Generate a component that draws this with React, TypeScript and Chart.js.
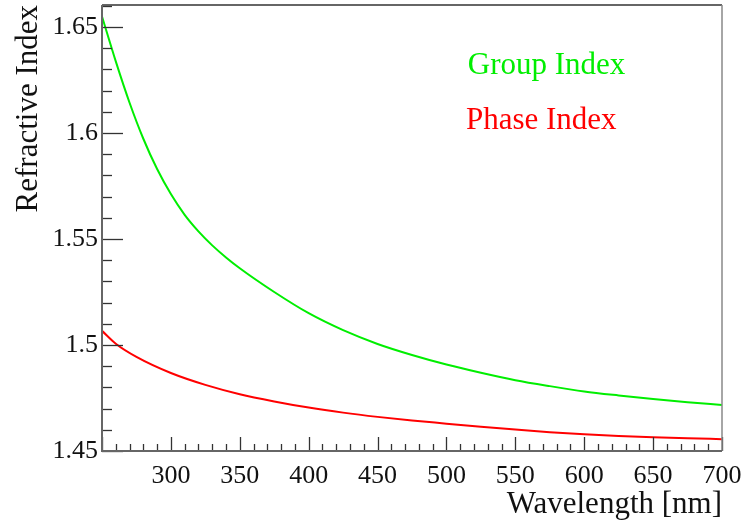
import React, { useEffect, useRef } from 'react';
import { Chart, registerables } from 'chart.js';

Chart.register(...registerables);

const groupWavelengths = [250, 260, 270, 280, 290, 300, 310, 320, 330, 340, 350, 375, 400, 425, 450, 475, 500, 525, 550, 575, 600, 625, 650, 675, 700];
const groupIndex = [1.655, 1.6338, 1.6143, 1.5973, 1.583, 1.5712, 1.5614, 1.5536, 1.547, 1.5413, 1.5362, 1.525, 1.515, 1.507, 1.5005, 1.4953, 1.4908, 1.4869, 1.4834, 1.4806, 1.4781, 1.4762, 1.4745, 1.473, 1.4717];
const phaseWavelengths = [250, 260, 275, 300, 325, 350, 375, 400, 425, 450, 475, 500, 525, 550, 575, 600, 625, 650, 675, 700];
const phaseIndex = [1.5067, 1.5006, 1.4944, 1.4868, 1.4812, 1.4768, 1.4734, 1.4705, 1.4681, 1.4661, 1.4644, 1.4629, 1.4614, 1.4601, 1.4589, 1.4579, 1.4571, 1.4565, 1.456, 1.4556];
const seriesLabels = ['Group Index', 'Phase Index'];
const xTitle = 'Wavelength [nm]';
const yTitle = 'Refractive Index';

const FONT = "'Liberation Serif', 'Times New Roman', serif";

const rootAxesPlugin = {
  id: 'rootAxes',
  afterDatasetsDraw(chart: any) {
    const { ctx, chartArea: a, scales } = chart;
    const xs = scales.x;
    const ys = scales.y;
    ctx.save();
    ctx.strokeStyle = '#333';
    ctx.lineWidth = 1.3;
    for (let v = 250; v <= 700; v += 10) {
      const px = Math.round(xs.getPixelForValue(v)) + 0.5;
      const major = v % 50 === 0;
      const len = major ? 14 : 7;
      ctx.beginPath();
      ctx.moveTo(px, a.bottom);
      ctx.lineTo(px, a.bottom - len);
      ctx.stroke();
    }
    for (let i = 0; i <= 21; i++) {
      const v = 1.45 + i * 0.01;
      const py = Math.round(ys.getPixelForValue(v)) + 0.5;
      if (py < a.top) continue;
      const major = i % 5 === 0;
      const len = major ? 21 : 10;
      ctx.beginPath();
      ctx.moveTo(a.left, py);
      ctx.lineTo(a.left + len, py);
      ctx.stroke();
    }
    ctx.lineWidth = 1.5;
    ctx.strokeStyle = '#333';
    ctx.beginPath();
    ctx.moveTo(a.left, a.top);
    ctx.lineTo(a.right, a.top);
    ctx.stroke();
    ctx.strokeStyle = '#888';
    ctx.beginPath();
    ctx.moveTo(a.right, a.top);
    ctx.lineTo(a.right, a.bottom);
    ctx.stroke();
    ctx.strokeStyle = '#666';
    ctx.lineWidth = 2;
    ctx.beginPath();
    ctx.moveTo(a.left, a.top);
    ctx.lineTo(a.left, a.bottom);
    ctx.lineTo(a.right, a.bottom);
    ctx.stroke();

    const pos = [
      { fx: 0.59, fy: 0.155 },
      { fx: 0.587, fy: 0.279 },
    ];
    ctx.font = `31px ${FONT}`;
    ctx.textAlign = 'left';
    ctx.textBaseline = 'alphabetic';
    chart.data.datasets.forEach((ds: any, i: number) => {
      ctx.fillStyle = ds.borderColor;
      ctx.fillText(ds.label, a.left + pos[i].fx * (a.right - a.left), a.top + pos[i].fy * (a.bottom - a.top));
    });
    ctx.restore();
  },
};

export default function App() {
  const ref = useRef<HTMLCanvasElement>(null);
  useEffect(() => {
    const canvas = ref.current!;
    const chart = new Chart(canvas, {
      type: 'line',
      data: {
        datasets: [
          {
            label: seriesLabels[0],
            data: groupWavelengths.map((w, i) => ({ x: w, y: groupIndex[i] })),
            borderColor: '#00ee00',
            borderWidth: 2,
            pointRadius: 0,
            cubicInterpolationMode: 'monotone',
            fill: false,
          },
          {
            label: seriesLabels[1],
            data: phaseWavelengths.map((w, i) => ({ x: w, y: phaseIndex[i] })),
            borderColor: '#ff0000',
            borderWidth: 2,
            pointRadius: 0,
            cubicInterpolationMode: 'monotone',
            fill: false,
          },
        ],
      },
      options: {
        animation: false,
        responsive: false,
        layout: { padding: { top: 5, right: 23, left: 0, bottom: 0 } },
        plugins: { legend: { display: false }, tooltip: { enabled: false } },
        scales: {
          x: {
            type: 'linear',
            min: 250,
            max: 700,
            grid: { display: false, drawTicks: false },
            border: { display: false },
            ticks: {
              stepSize: 50,
              padding: 10,
              color: '#111',
              font: { family: FONT, size: 26 },
              maxRotation: 0,
              autoSkip: false,
              callback: (v: any) => (v === 250 ? '' : String(v)),
            },
            title: {
              display: true,
              text: xTitle,
              align: 'end',
              color: '#111',
              font: { family: FONT, size: 31 },
              padding: { top: 0, bottom: 2 },
            },
            afterFit: (s: any) => {
              s.height = 74;
              s.paddingLeft = 0;
              s.paddingRight = 0;
            },
          },
          y: {
            type: 'linear',
            min: 1.45,
            max: 1.6604,
            grid: { display: false, drawTicks: false },
            border: { display: false },
            ticks: {
              stepSize: 0.05,
              includeBounds: false,
              padding: 4,
              color: '#111',
              font: { family: FONT, size: 26 },
              callback: (v: any) => Number(Number(v).toFixed(2)).toString(),
            },
            title: {
              display: true,
              text: yTitle,
              align: 'end',
              color: '#111',
              font: { family: FONT, size: 31 },
              padding: { top: 10, bottom: 0 },
            },
            afterFit: (s: any) => {
              s.width = 102;
              s.paddingTop = 0;
              s.paddingBottom = 0;
            },
          },
        },
      },
      plugins: [rootAxesPlugin],
    } as any);
    return () => chart.destroy();
  }, []);
  return (
    <div style={{ position: 'fixed', left: 0, top: 0, width: 745, height: 525, background: '#fff' }}>
      <canvas ref={ref} width={745} height={525} style={{ width: 745, height: 525 }} />
    </div>
  );
}
